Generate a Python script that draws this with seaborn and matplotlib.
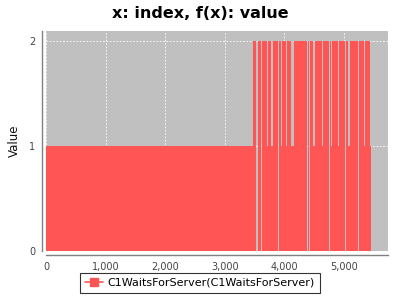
import numpy as np
import pandas as pd
import matplotlib
matplotlib.use("Agg")
import matplotlib.pyplot as plt
import matplotlib.ticker as mticker
from matplotlib.lines import Line2D
import seaborn as sns

title = "x: index, f(x): value"
series_name = "C1WaitsForServer(C1WaitsForServer)"
y_label = "Value"

# step change points (index where value starts) and the value held from there
change_idx = [0, 3469, 3480, 3491, 3514, 3548, 3609, 3631, 3699, 3732, 3777, 3811,
              3884, 3901, 3934, 3951, 4018, 4035, 4103, 4153, 4372, 4389, 4406,
              4423, 4484, 4507, 4630, 4653, 4743, 4760, 4776, 4799, 4827, 4832,
              4899, 4922, 5017, 5034, 5074, 5096, 5231, 5248, 5332, 5354, 5444, 5461]
change_val = [1, 2, 1, 2, 0, 2, 0, 2, 1, 2, 1, 2,
              0, 2, 1, 2, 1, 2, 1, 2, 0, 2, 0,
              2, 1, 2, 1, 2, 0, 2, 1, 2, 1, 2,
              1, 2, 0, 2, 1, 2, 0, 2, 1, 2, 1, 1]
x_ticks = [0, 1000, 2000, 3000, 4000, 5000]
y_ticks = [0, 1, 2]

df = pd.DataFrame({"index": change_idx, "value": change_val})

red = "#FF5555"
bg = "#C0C0C0"

sns.set_style("white")
plt.rcParams["font.family"] = ["DejaVu Sans"]

fig = plt.figure(figsize=(4, 3), dpi=100)
ax = fig.add_axes([0.116, 0.163, 0.854, 0.734])
ax.set_facecolor(bg)

# seaborn sets up the series on the axes (outline invisible; area drawn below)
sns.lineplot(data=df, x="index", y="value", drawstyle="steps-post", color=red,
             linewidth=0, ax=ax, legend=False)
ax.fill_between(df["index"], 0, df["value"], step="post", color=red, linewidth=0,
                zorder=2)

ax.set_xlim(0, 5740)
ax.set_ylim(0, 2.1)
ax.set_xticks(x_ticks)
ax.set_yticks(y_ticks)
ax.xaxis.set_major_formatter(mticker.FuncFormatter(lambda v, p: f"{int(v):,}"))
ax.grid(True, color="white", linestyle=(0, (2, 2)), linewidth=0.6, zorder=1)
ax.set_axisbelow(True)

for s in ["top", "right"]:
    ax.spines[s].set_visible(False)
for s in ["left", "bottom"]:
    ax.spines[s].set_position(("outward", 3))
    ax.spines[s].set_color("#808080")
    ax.spines[s].set_linewidth(1)
ax.tick_params(axis="both", direction="out", length=3, width=0.8, color="#808080",
               labelsize=7, labelcolor="#444444", pad=2)

ax.set_xlabel("")
ax.set_ylabel(y_label, fontsize=8.5, color="#111111", labelpad=6)
fig.suptitle(title, x=0.5, y=0.955, va="center", fontsize=11.5, fontweight="bold",
             color="black")

handle = Line2D([0], [0], color=red, marker="s", markersize=6, linewidth=1.2)
leg = fig.legend([handle], [series_name], loc="lower center", bbox_to_anchor=(0.5, 0.005),
                 frameon=True, fancybox=False, edgecolor="black", fontsize=8,
                 handlelength=1.6, borderpad=0.45, handletextpad=0.4)
leg.get_frame().set_linewidth(0.8)
for t in leg.get_texts():
    t.set_color("black")

fig.savefig("out.png", dpi=100)
